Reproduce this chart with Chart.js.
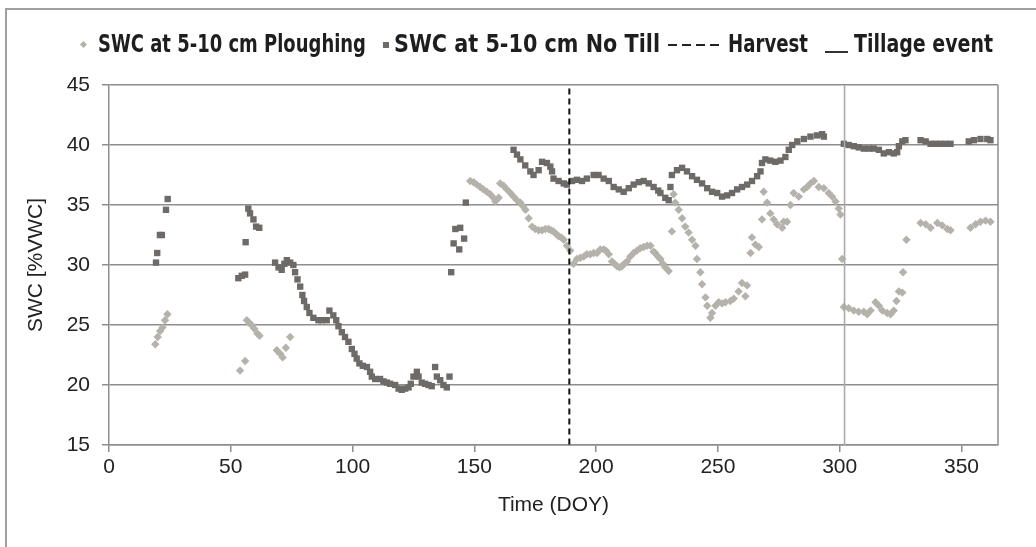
<!DOCTYPE html>
<html><head><meta charset="utf-8">
<script src="https://cdn.jsdelivr.net/npm/chart.js@4.4.1/dist/chart.umd.min.js"></script>
<style>
html,body{margin:0;padding:0;background:#fff;}
#wrap{position:relative;width:1036px;height:547px;overflow:hidden;background:#fff;}
#frame{position:absolute;left:5px;top:8px;width:1200px;height:700px;border-top:2px solid #a0a0a0;border-left:2px solid #a0a0a0;}
#legend{position:absolute;left:0;top:28px;width:1036px;height:32px;font-family:"Liberation Sans Narrow","DejaVu Sans Condensed","Liberation Sans",sans-serif;font-weight:bold;font-size:24px;color:#1e1e1e;}
.txt{position:absolute;top:0;line-height:32px;white-space:nowrap;transform-origin:0 50%;}
.mk{position:absolute;}
canvas{position:absolute;left:0;top:0;}
</style>
</head><body>
<div id="wrap">
<div id="frame"></div>
<canvas id="c" width="1036" height="547"></canvas>
<div id="legend">
  <div class="mk" style="left:81px;top:14px;width:5px;height:5px;background:#b4b1aa;transform:rotate(45deg);"></div>
  <span class="txt" data-w="268" style="left:98px;">SWC at 5-10 cm Ploughing</span>
  <div class="mk" style="left:383px;top:14px;width:6px;height:6px;background:#6d6a67;"></div>
  <span class="txt" data-w="266" style="left:394px;">SWC at 5-10 cm No Till</span>
  <div class="mk" style="left:668px;top:16px;width:52px;height:2px;background:repeating-linear-gradient(90deg,#222 0 9px,transparent 9px 14px);"></div>
  <span class="txt" data-w="80" style="left:728px;">Harvest</span>
  <div class="mk" style="left:825px;top:23px;width:23px;height:2px;background:#333;"></div>
  <span class="txt" data-w="139" style="left:854px;">Tillage event</span>
</div>
</div>
<script>
// ---- Data (DOY, soil water content %VWC) ----
const ploughing = [
 [19,23.4],[20,24.0],[21,24.5],[22,24.8],[23,25.4],[24,25.9],
 [53.8,21.2],[55.9,22.0],[56.6,25.4],[57.5,25.2],[58.5,25.0],[59.6,24.7],[60.9,24.3],[61.8,24.1],
 [68.9,22.9],[70.3,22.6],[71.3,22.3],[72.6,23.1],[74.4,24.0],
 [148.3,37.0],[149.7,36.9],[151.0,36.7],[152.4,36.5],[153.7,36.3],[155.1,36.1],[156.5,35.9],[157.8,35.6],[158.6,35.3],[160.0,35.6],
 [160.6,36.8],[162.0,36.6],[163.4,36.3],[164.8,36.0],[166.1,35.7],[167.5,35.4],[168.9,35.2],[170.0,34.9],[171.0,34.6],[172.3,33.9],
 [173.7,33.2],[175.0,33.0],[176.4,32.9],[177.8,32.9],[179.2,33.0],[180.5,33.0],[181.5,32.9],[182.5,32.8],[183.5,32.6],[184.6,32.4],
 [185.7,32.3],[186.7,32.1],[188.0,31.6],[189.4,31.2],[190.7,30.1],[192.1,30.5],[193.5,30.6],[194.9,30.7],[196.2,30.9],[197.6,30.9],
 [199.0,31.0],[200.4,31.0],[201.7,31.3],[203.1,31.3],[204.0,31.2],[205.2,30.9],[206.5,30.3],[207.5,30.1],[208.6,29.9],[209.6,29.8],
 [210.6,29.9],[211.6,30.1],[212.7,30.3],[214.0,30.7],[215.4,31.0],[216.8,31.2],[218.1,31.4],[219.5,31.5],[220.9,31.6],[222.3,31.6],
 [223.6,31.1],[224.3,31.0],[225.4,30.7],[226.4,30.5],[227.4,30.1],[228.4,29.8],[229.8,29.5],[231.1,32.8],
 [231.8,35.9],[232.5,35.2],[233.9,34.6],[235.3,33.9],[236.6,33.2],[238.0,32.7],[239.4,32.1],[240.8,31.6],[241.4,30.5],[242.8,29.4],
 [243.5,28.4],[244.9,27.3],[245.6,26.6],[246.9,25.6],[247.6,26.0],[249.0,26.6],[250.3,26.9],[251.7,26.8],[253.1,26.9],[255.1,27.0],
 [256.5,27.2],[258.5,27.8],[259.9,28.5],[261.3,27.4],[262.0,28.3],[263.4,31.0],[264.0,32.3],[265.4,31.7],[266.8,31.5],[268.1,33.8],
 [268.8,36.1],[270.2,35.2],[271.5,34.3],[272.9,33.8],[274.3,33.4],[276.4,33.1],[277.0,33.6],[278.4,33.6],[279.8,35.0],[281.1,36.0],
 [283.2,35.7],[285.3,36.3],[286.6,36.5],[288.0,36.8],[289.4,37.0],[291.4,36.5],[293.5,36.4],[295.5,36.0],[296.9,35.7],[298.3,35.3],
 [299.6,34.7],[300.3,34.2],[301.0,30.5],
 [301.7,26.5],[303.7,26.4],[305.8,26.2],[307.8,26.1],[309.9,26.1],[311.3,25.9],[312.7,26.2],[314.7,26.9],[316.1,26.6],[317.5,26.2],
 [319.5,26.0],[320.9,25.9],[322.2,26.2],[323.3,27.0],[324.3,27.8],[325.7,27.7],[326.0,29.4],[327.4,32.1],
 [333.2,33.5],[335.3,33.4],[337.3,33.1],[340.1,33.5],[342.1,33.3],[344.2,33.0],[345.5,32.9],
 [353.7,33.1],[355.8,33.4],[357.8,33.6],[359.9,33.7],[361.9,33.6]
];
const noTill = [
 [19.3,30.2],[19.8,31.0],[20.9,32.5],[21.7,32.5],[23.4,34.6],[24.1,35.5],
 [53.1,28.9],[54.5,29.1],[55.9,29.2],[56.1,31.9],[57.2,34.7],[57.9,34.3],[59.3,33.8],[60.4,33.2],[61.7,33.1],
 [68.2,30.2],[69.6,29.8],[70.9,29.6],[72.0,30.1],[73.0,30.4],[74.4,30.2],[75.7,30.0],[76.4,29.4],[77.4,28.8],[78.5,28.2],
 [79.4,27.5],[80.1,27.0],[81.2,26.5],[82.3,26.0],[83.9,25.6],[86.0,25.4],[87.4,25.4],[89.4,25.4],[90.5,26.2],[92.1,25.8],
 [93.3,25.4],[94.2,24.9],[95.6,24.4],[96.9,24.0],[98.3,23.6],[99.7,23.0],[100.8,22.6],[101.7,22.2],[102.8,21.8],[104.2,21.6],
 [105.9,21.5],[107.2,21.1],[107.9,20.7],[109.3,20.5],[111.3,20.5],[112.7,20.3],[114.1,20.2],[115.4,20.1],[117.5,20.0],[118.9,19.7],
 [120.2,19.6],[121.6,19.7],[123.0,19.8],[123.9,20.1],[125.0,20.7],[126.4,21.1],[127.1,20.7],[128.4,20.2],[129.8,20.1],[131.2,20.0],
 [132.5,19.9],[133.9,21.5],[134.6,20.7],[136.0,20.4],[137.3,20.0],[138.7,19.8],[139.8,20.7],
 [140.5,29.4],[141.5,31.8],[142.2,33.0],[143.8,31.3],[144.2,33.1],[145.8,32.2],[146.5,35.2],
 [166.1,39.6],[167.5,39.2],[168.9,38.8],[170.9,38.3],[173.0,37.8],[174.3,37.5],[176.4,37.9],[177.8,38.6],[179.8,38.5],[181.2,38.2],
 [181.9,37.8],[182.5,37.2],[184.6,37.0],[186.7,36.8],[188.0,36.7],[190.1,37.0],[192.1,37.1],[194.2,37.0],[196.2,37.2],[199.0,37.5],
 [201.0,37.5],[203.1,37.2],[205.2,37.0],[207.2,36.5],[209.3,36.3],[211.3,36.1],[213.4,36.4],[215.4,36.7],[217.5,36.9],[219.5,37.0],
 [221.6,36.8],[223.6,36.5],[225.5,36.2],[226.4,36.0],[228.4,35.6],[229.8,35.4],[230.5,36.5],[231.1,37.5],[233.2,37.9],[235.3,38.1],
 [237.3,37.8],[239.4,37.4],[241.4,37.1],[243.5,36.8],[245.6,36.4],[247.6,36.1],[249.7,36.0],[251.7,35.7],[253.8,35.8],[255.8,36.0],
 [257.9,36.3],[259.9,36.5],[262.0,36.7],[264.0,37.0],[266.1,37.4],[267.5,37.8],[268.1,38.5],[269.5,38.8],[271.5,38.7],[273.6,38.6],
 [275.7,38.7],[277.7,39.0],[279.1,39.6],[280.5,40.0],[282.6,40.3],[285.3,40.5],[288.0,40.7],[290.7,40.8],[292.8,40.9],[293.5,40.7],
 [301.7,40.1],[303.7,40.0],[305.8,39.9],[307.8,39.8],[309.9,39.7],[312.0,39.7],[314.0,39.7],[316.1,39.6],[318.1,39.3],[320.2,39.4],
 [322.2,39.3],[323.6,39.4],[324.3,39.9],[325.7,40.3],[327.0,40.4],
 [333.2,40.4],[335.3,40.3],[337.3,40.1],[339.4,40.1],[341.4,40.1],[343.5,40.1],[345.5,40.1],
 [353.0,40.3],[355.1,40.4],[357.8,40.5],[360.6,40.5],[361.9,40.4]
];
const harvestDoy = 189;
const harvestSpan = [44.7, 15];
const tillageDoy = 302;
const tillageSpan = [45, 15];
const xTicks = [0, 50, 100, 150, 200, 250, 300, 350];
const yTicks = [15, 20, 25, 30, 35, 40, 45];

// fit legend text widths
document.querySelectorAll('#legend .txt').forEach(el => {
  const target = +el.dataset.w;
  const w = el.getBoundingClientRect().width;
  if (w > 0) el.style.transform = 'scaleX(' + (target / w) + ')';
});

const GRID = '#8e8e8e';
const TXT = '#222';
const tickFont = {family: 'Liberation Sans, Arial, sans-serif', size: 21};

const framePlugin = {
  id: 'frameRight',
  afterDatasetsDraw(chart) {
    const {ctx, chartArea: a} = chart;
    ctx.save();
    ctx.strokeStyle = GRID;
    ctx.lineWidth = 1.5;
    ctx.beginPath();
    ctx.moveTo(a.right, a.top);
    ctx.lineTo(a.right, a.bottom);
    ctx.stroke();
    ctx.restore();
  }
};

new Chart(document.getElementById('c'), {
  type: 'scatter',
  data: {
    datasets: [
      {type: 'line', label: 'Harvest', order: 0,
       data: harvestSpan.map(v => ({x: harvestDoy, y: v})),
       borderColor: '#111', borderWidth: 2, borderDash: [6, 4], pointRadius: 0, fill: false},
      {type: 'line', label: 'Tillage event', order: 1,
       data: tillageSpan.map(v => ({x: tillageDoy, y: v})),
       borderColor: '#ababab', borderWidth: 1.6, pointRadius: 0, fill: false},
      {label: 'SWC at 5-10 cm No Till', order: 2,
       data: noTill.map(([x, y]) => ({x, y})),
       pointStyle: 'rect', pointRadius: 4.5, pointHoverRadius: 4.5,
       backgroundColor: '#6d6a67', borderWidth: 0},
      {label: 'SWC at 5-10 cm Ploughing', order: 3,
       data: ploughing.map(([x, y]) => ({x, y})),
       pointStyle: 'rectRot', pointRadius: 4.2, pointHoverRadius: 4.2,
       backgroundColor: '#b5b2ab', borderWidth: 0}
    ]
  },
  options: {
    responsive: false,
    animation: false,
    events: [],
    layout: {padding: {top: 85, right: 38, left: 0, bottom: 0}},
    plugins: {legend: {display: false}, tooltip: {enabled: false}},
    scales: {
      x: {
        type: 'linear', min: 0, max: 365,
        afterBuildTicks(axis) { axis.ticks = xTicks.map(v => ({value: v})); },
        ticks: {font: tickFont, color: TXT, padding: 3, maxRotation: 0},
        grid: {drawOnChartArea: false, drawTicks: true, tickLength: 7, color: GRID, lineWidth: 1.5},
        border: {color: GRID, width: 1.5},
        title: {display: true, text: 'Time (DOY)', font: tickFont, color: TXT, padding: {top: 0, bottom: 29}},
        afterFit(axis) { axis.height = 547 - 445; }
      },
      y: {
        type: 'linear', min: 15, max: 45,
        afterBuildTicks(axis) { axis.ticks = yTicks.map(v => ({value: v})); },
        ticks: {font: tickFont, color: TXT, padding: 12},
        grid: {color: GRID, lineWidth: 1.5, drawTicks: true, tickLength: 7},
        border: {color: GRID, width: 1.5},
        title: {display: true, text: 'SWC [%VWC]', font: tickFont, color: TXT, padding: {top: 24, bottom: 0}},
        afterFit(axis) { axis.width = 109; }
      }
    }
  },
  plugins: [framePlugin]
});
</script>
</body></html>
